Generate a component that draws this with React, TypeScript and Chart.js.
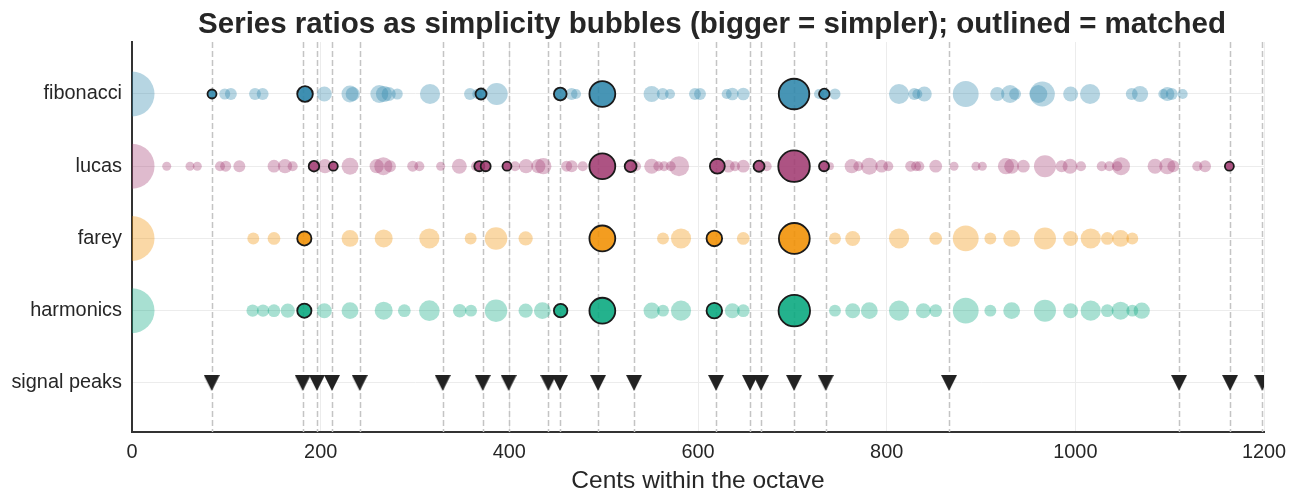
import React, { useEffect, useRef } from "react";
import { Chart, registerables } from "chart.js";
Chart.register(...registerables);

const TITLE = "Series ratios as simplicity bubbles (bigger = simpler); outlined = matched";
const X_TITLE = "Cents within the octave";
const ROWS = ["signal peaks", "harmonics", "farey", "lucas", "fibonacci"];
const X_TICKS = [0, 200, 400, 600, 800, 1000, 1200];

// fibonacci
const fibCents = [0, 98.3, 104.8, 130.4, 138.5, 185, 203.9, 231, 234, 262.2, 267.1, 272.1, 281.2, 315.9, 358.3, 366, 386.6, 466, 470.7, 550.9, 562.6, 570.3, 596.8, 602.1, 630.4, 636.4, 648, 728.3, 745.2, 813.1, 829.3, 832.5, 839.9, 883.8, 917.3, 930.8, 936.1, 960.8, 965, 995, 1015.6, 1059.8, 1068.6, 1093.3, 1097.5, 1102.2, 1113.8];
const fibSimplicity = [1.0, 0.06, 0.07, 0.07, 0.07, 0.1, 0.11, 0.14, 0.1, 0.16, 0.13, 0.1, 0.06, 0.2, 0.07, 0.05, 0.24, 0.07, 0.05, 0.13, 0.07, 0.05, 0.07, 0.07, 0.05, 0.08, 0.08, 0.05, 0.06, 0.2, 0.07, 0.05, 0.11, 0.33, 0.1, 0.16, 0.07, 0.16, 0.31, 0.11, 0.2, 0.07, 0.13, 0.05, 0.1, 0.07, 0.05];
const fibMatchedCents = [84.8, 183.4, 370, 454, 498.6, 701.8, 733.9];
const fibMatchedSimplicity = [0.04, 0.12, 0.06, 0.08, 0.33, 0.46, 0.055];

// lucas
const lucasCents = [0, 36.8, 61.5, 69.2, 93.3, 99.3, 113.8, 150.5, 162.2, 170.3, 204.6, 231.1, 259.4, 266.4, 273.5, 297.6, 304.6, 327.2, 347, 364.7, 406, 417.7, 430.7, 436, 460.8, 466.1, 477.8, 534.3, 550.9, 558, 564, 571.1, 579.9, 632.2, 639.2, 648, 672.8, 739.9, 763, 770, 781.6, 794.7, 801.7, 825.5, 831.1, 834.6, 852, 871.4, 894.7, 901.4, 926.5, 932.5, 944.9, 967.8, 985.5, 994.4, 1006, 1028, 1036, 1044.5, 1048.4, 1084.5, 1097.5, 1103.9, 1129.3, 1137.5];
const lucasSimplicity = [1.0, 0.04, 0.04, 0.04, 0.05, 0.06, 0.07, 0.08, 0.1, 0.05, 0.1, 0.14, 0.1, 0.16, 0.07, 0.06, 0.05, 0.04, 0.11, 0.05, 0.05, 0.1, 0.1, 0.13, 0.06, 0.07, 0.05, 0.05, 0.11, 0.05, 0.05, 0.05, 0.2, 0.08, 0.05, 0.08, 0.05, 0.03, 0.1, 0.05, 0.14, 0.08, 0.05, 0.06, 0.05, 0.05, 0.08, 0.04, 0.04, 0.04, 0.13, 0.11, 0.08, 0.24, 0.07, 0.11, 0.05, 0.05, 0.05, 0.05, 0.16, 0.11, 0.13, 0.07, 0.05, 0.07];
const lucasMatchedCents = [192.9, 213.4, 368.2, 374.9, 397.5, 498.6, 528.6, 620.5, 664.7, 701.8, 733.6, 1163.3];
const lucasMatchedSimplicity = [0.055, 0.04, 0.05, 0.05, 0.04, 0.33, 0.07, 0.11, 0.06, 0.49, 0.05, 0.04];

// farey
const fareyCents = [0, 128.6, 150.5, 231.1, 266.8, 315.2, 359, 385.9, 417.3, 562.9, 582, 648, 745.2, 764, 813.1, 852, 883.8, 909.9, 932.5, 967.8, 995, 1016.3, 1033.9, 1048, 1060.4];
const fareySimplicity = [1.0, 0.07, 0.08, 0.14, 0.16, 0.2, 0.07, 0.25, 0.1, 0.07, 0.2, 0.08, 0.07, 0.11, 0.2, 0.08, 0.33, 0.07, 0.14, 0.24, 0.11, 0.2, 0.08, 0.14, 0.07];
const fareyMatchedCents = [182.7, 498.6, 617.3, 702.1];
const fareyMatchedSimplicity = [0.1, 0.33, 0.12, 0.47];

// harmonics
const harmCents = [0, 127.9, 138.9, 150.5, 165.1, 203.9, 231.1, 266.8, 288.7, 315.2, 347.4, 359.4, 385.9, 417.3, 435, 550.9, 562.9, 582, 636.4, 648, 745.2, 764, 781.6, 813.1, 838.9, 852, 883.8, 909.9, 932.5, 967.8, 995, 1016.3, 1033.9, 1048, 1060.4, 1070.4];
const harmSimplicity = [1.0, 0.076, 0.076, 0.08, 0.1, 0.11, 0.14, 0.16, 0.08, 0.21, 0.09, 0.07, 0.25, 0.1, 0.14, 0.13, 0.07, 0.2, 0.11, 0.08, 0.07, 0.11, 0.14, 0.2, 0.11, 0.08, 0.33, 0.07, 0.14, 0.24, 0.11, 0.2, 0.08, 0.16, 0.07, 0.13];
const harmMatchedCents = [182.7, 454.4, 498.6, 617.3, 702.1];
const harmMatchedSimplicity = [0.1, 0.09, 0.33, 0.12, 0.49];

// signal peaks
const peakCents = [84.5, 181, 196, 212, 241.4, 329.4, 371.8, 399.3, 441.3, 453.7, 494, 532.2, 619.1, 655.1, 666.8, 701.8, 735.4, 866.1, 1109.9, 1164, 1198.2];

const COLORS = { fibonacci: "#2E86AB", lucas: "#A23B72", farey: "#F18F01", harmonics: "#06A77D" };
const R_MAX = 22.5;
const FONT = '"Liberation Sans", Arial, Helvetica, sans-serif';

function hexA(hex: string, a: number) {
  const n = parseInt(hex.slice(1), 16);
  return `rgba(${(n >> 16) & 255},${(n >> 8) & 255},${n & 255},${a})`;
}

function bubbles(cents: number[], simp: number[], row: number) {
  return cents.map((c, i) => ({ x: c, y: row, r: R_MAX * Math.sqrt(simp[i]) }));
}

export default function App() {
  const ref = useRef<HTMLCanvasElement | null>(null);
  useEffect(() => {
    if (!ref.current) return;
    const tri = document.createElement("canvas");
    tri.width = 16;
    tri.height = 16;
    const tctx = tri.getContext("2d")!;
    tctx.fillStyle = "#222222";
    tctx.beginPath();
    tctx.moveTo(0, 0);
    tctx.lineTo(16, 0);
    tctx.lineTo(8, 16);
    tctx.closePath();
    tctx.fill();

    const series = [
      { name: "fibonacci", row: 4, c: fibCents, s: fibSimplicity, mc: fibMatchedCents, ms: fibMatchedSimplicity },
      { name: "lucas", row: 3, c: lucasCents, s: lucasSimplicity, mc: lucasMatchedCents, ms: lucasMatchedSimplicity },
      { name: "farey", row: 2, c: fareyCents, s: fareySimplicity, mc: fareyMatchedCents, ms: fareyMatchedSimplicity },
      { name: "harmonics", row: 1, c: harmCents, s: harmSimplicity, mc: harmMatchedCents, ms: harmMatchedSimplicity },
    ];
    const datasets: any[] = [];
    series.forEach((sr) => {
      const col = (COLORS as any)[sr.name];
      datasets.push({
        type: "bubble",
        label: sr.name,
        data: bubbles(sr.c, sr.s, sr.row),
        backgroundColor: hexA(col, 0.35),
        borderWidth: 0,
        borderColor: "rgba(0,0,0,0)",
        clip: 0,
        order: 2,
      });
      datasets.push({
        type: "bubble",
        label: sr.name + " matched",
        data: bubbles(sr.mc, sr.ms, sr.row),
        backgroundColor: hexA(col, 0.88),
        borderWidth: 1.8,
        borderColor: "#1a1a1a",
        clip: 0,
        order: 1,
      });
    });
    datasets.push({
      type: "scatter",
      label: "signal peaks",
      data: peakCents.map((c) => ({ x: c, y: 0 })),
      pointStyle: tri,
      pointRadius: 8,
      clip: 0,
      order: 0,
    });

    const peakLines = {
      id: "peakLines",
      beforeDatasetsDraw(chart: any) {
        const { ctx, chartArea, scales } = chart;
        ctx.save();
        ctx.beginPath();
        ctx.rect(chartArea.left, chartArea.top, chartArea.right - chartArea.left, chartArea.bottom - chartArea.top);
        ctx.clip();
        ctx.strokeStyle = "#c4c4c4";
        ctx.lineWidth = 1.5;
        ctx.setLineDash([6, 3]);
        ctx.beginPath();
        peakCents.forEach((p) => {
          const px = Math.round(scales.x.getPixelForValue(p)) + 0.5;
          ctx.moveTo(px, chartArea.top);
          ctx.lineTo(px, chartArea.bottom);
        });
        ctx.stroke();
        ctx.restore();
      },
    };
    const titlePlugin = {
      id: "bigTitle",
      afterDraw(chart: any) {
        const { ctx, chartArea } = chart;
        ctx.save();
        ctx.font = `bold 29.5px ${FONT}`;
        ctx.fillStyle = "#262626";
        ctx.textAlign = "center";
        ctx.textBaseline = "alphabetic";
        ctx.fillText(TITLE, (chartArea.left + chartArea.right) / 2 + 14, 24.5);
        ctx.restore();
      },
    };

    const chart = new Chart(ref.current, {
      type: "bubble",
      data: { datasets },
      options: {
        animation: false,
        responsive: true,
        maintainAspectRatio: false,
        events: [],
        layout: { padding: { top: 34, right: 24, left: 0, bottom: 0 } },
        plugins: { legend: { display: false }, tooltip: { enabled: false }, title: { display: false } },
        scales: {
          x: {
            type: "linear",
            min: 0,
            max: 1200,
            afterBuildTicks: (s: any) => {
              s.ticks = X_TICKS.map((v) => ({ value: v }));
            },
            afterFit: (s: any) => {
              s.height = 64;
              s.paddingLeft = 0;
              s.paddingRight = 0;
            },
            ticks: {
              font: { family: FONT, size: 19.9 },
              color: "#262626",
              padding: 9,
              maxRotation: 0,
              callback: (v: any) => String(v),
            },
            grid: { color: "#ececec", lineWidth: 1, drawTicks: false },
            border: { color: "#333333", width: 2 },
            title: {
              display: true,
              text: X_TITLE,
              font: { family: FONT, size: 24.5 },
              color: "#262626",
              padding: { top: 0, bottom: 0 },
            },
          },
          y: {
            type: "linear",
            min: -0.68,
            max: 4.72,
            afterBuildTicks: (s: any) => {
              s.ticks = ROWS.map((_, i) => ({ value: i }));
            },
            afterFit: (s: any) => {
              s.width = 124;
            },
            ticks: {
              font: { family: FONT, size: 19.9 },
              color: "#262626",
              padding: 10,
              callback: (v: any) => ROWS[Math.round(Number(v))] ?? "",
            },
            grid: { color: "#ececec", lineWidth: 1, drawTicks: false },
            border: { color: "#333333", width: 2 },
          },
        },
      } as any,
      plugins: [peakLines, titlePlugin],
    });
    return () => chart.destroy();
  }, []);

  return (
    <div style={{ width: 1280, height: 488, position: "relative" }}>
      <canvas ref={ref} />
    </div>
  );
}
